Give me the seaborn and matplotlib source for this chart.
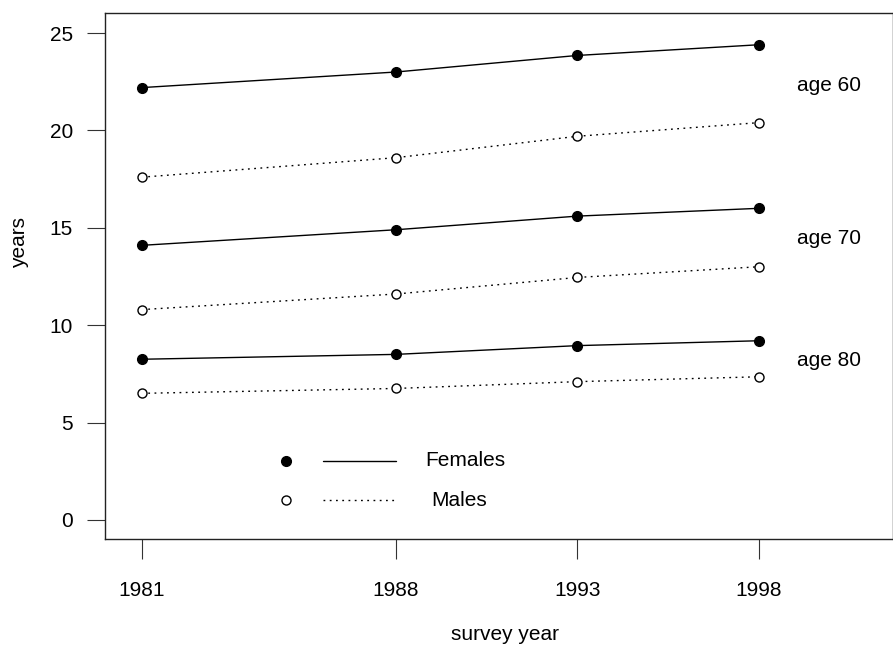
import matplotlib
matplotlib.use("Agg")
import matplotlib.pyplot as plt
import seaborn as sns
import pandas as pd

# Remaining life expectancy by survey year, sex and age
survey_years = [1981, 1988, 1993, 1998]
ages = ["age 60", "age 70", "age 80"]
females_60 = [22.2, 23.0, 23.85, 24.4]
males_60 = [17.6, 18.6, 19.7, 20.4]
females_70 = [14.1, 14.9, 15.6, 16.0]
males_70 = [10.8, 11.6, 12.45, 13.0]
females_80 = [8.25, 8.5, 8.95, 9.2]
males_80 = [6.5, 6.75, 7.1, 7.35]
label_y = [22.3, 14.45, 8.2]
y_ticks = [0, 5, 10, 15, 20, 25]

series = {
    ("Females", "age 60"): females_60,
    ("Males", "age 60"): males_60,
    ("Females", "age 70"): females_70,
    ("Males", "age 70"): males_70,
    ("Females", "age 80"): females_80,
    ("Males", "age 80"): males_80,
}

rows = []
for (sex, age), vals in series.items():
    for yr, v in zip(survey_years, vals):
        rows.append({"survey year": yr, "years": v, "sex": sex, "age": age})
df = pd.DataFrame(rows)

FS = 15

sns.set_style("white")
plt.rcParams["font.family"] = ["Liberation Sans", "DejaVu Sans"]
plt.rcParams["font.size"] = FS
plt.rcParams["text.color"] = "black"
plt.rcParams["axes.labelcolor"] = "black"
plt.rcParams["xtick.color"] = "#333333"
plt.rcParams["ytick.color"] = "#333333"
plt.rcParams["xtick.labelcolor"] = "black"
plt.rcParams["ytick.labelcolor"] = "black"

fig = plt.figure(figsize=(8.93, 6.45), dpi=100)
ax = fig.add_axes([105 / 893, 1 - 539 / 645, 788 / 893, 526 / 645])

dotted = (0, (1.3, 3.2))
for (sex, age), grp in df.groupby(["sex", "age"]):
    female = sex == "Females"
    sns.lineplot(
        data=grp, x="survey year", y="years", ax=ax,
        color="black", linewidth=1.0,
        linestyle="-" if female else dotted,
        marker="o",
        markersize=7 if female else 6.5,
        markerfacecolor="black" if female else "white",
        markeredgecolor="black", markeredgewidth=1.0,
        legend=False, zorder=3,
    )

for age, y in zip(ages, label_y):
    ax.text(1999.05, y, age, ha="left", va="center", fontsize=FS)

# Legend: marker, line sample, then label
ax.plot([0.2297], [0.1483], "o", color="black", markersize=7,
        transform=ax.transAxes)
ax.plot([0.2766, 0.3693], [0.1483, 0.1483], "-", color="black", lw=1.0,
        transform=ax.transAxes)
ax.text(0.407, 0.1483, "Females", transform=ax.transAxes, ha="left",
        va="center", fontsize=FS)
ax.plot([0.2297], [0.0741], "o", markerfacecolor="white",
        markeredgecolor="black", markersize=6.5, transform=ax.transAxes)
ax.plot([0.2766, 0.3693], [0.0741, 0.0741], color="black", lw=1.0,
        linestyle=dotted, transform=ax.transAxes)
ax.text(0.4137, 0.0741, "Males", transform=ax.transAxes, ha="left",
        va="center", fontsize=FS)

ax.set_xlim(1979.98, 2001.7)
ax.set_ylim(-0.98, 26.03)
ax.set_xticks(survey_years)
ax.set_xticklabels([str(y) for y in survey_years])
ax.set_yticks(y_ticks)
ax.set_yticklabels([str(t) for t in y_ticks])

ax.tick_params(axis="y", direction="out", length=13, width=0.8,
               pad=10, labelsize=FS, left=True)
ax.tick_params(axis="x", direction="out", length=14.5, width=0.8,
               pad=16, labelsize=FS, bottom=True)
for sp in ax.spines.values():
    sp.set_visible(True)
    sp.set_color("#222222")
    sp.set_linewidth(1.0)

ax.set_xlabel("survey year", fontsize=FS)
ax.set_ylabel("years", fontsize=FS)
ax.xaxis.set_label_coords(0.5076, -0.1825)
ax.xaxis.label.set_va("center")
ax.yaxis.set_label_coords(-0.109, 0.563)
ax.yaxis.label.set_va("center")

fig.savefig("out.png", dpi=100, facecolor="white")
